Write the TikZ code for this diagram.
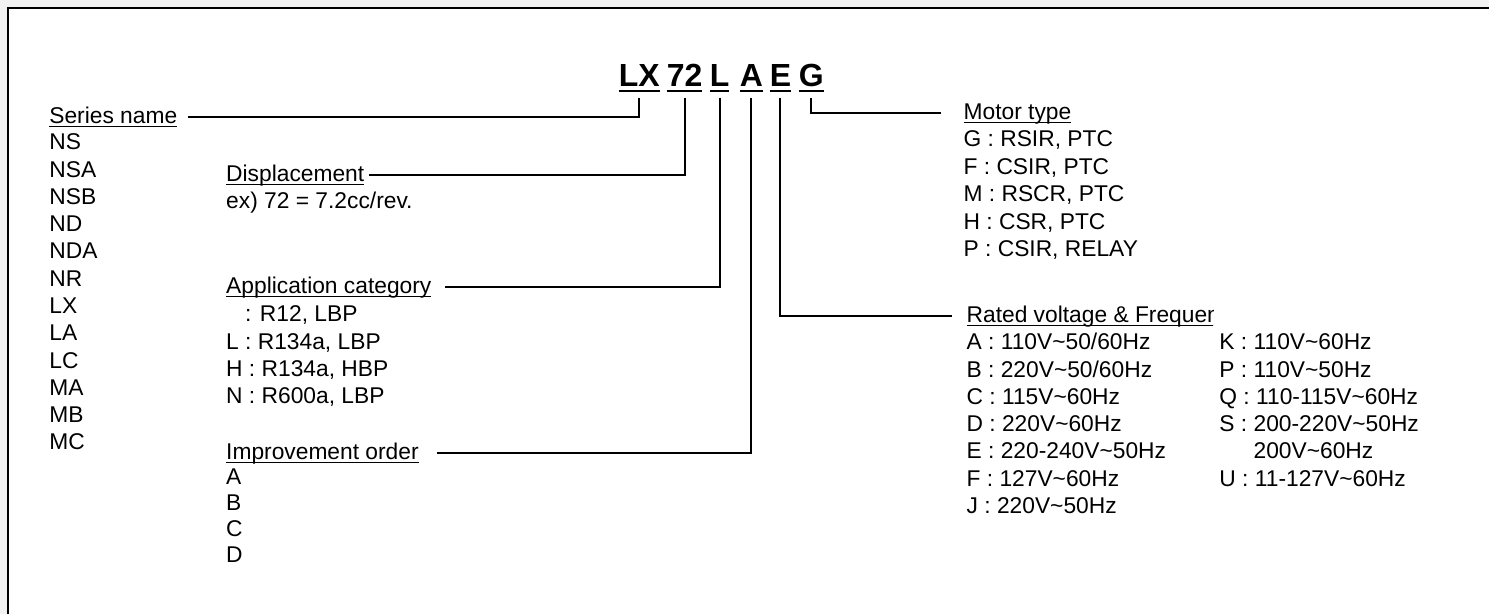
\documentclass[tikz,border=0pt]{standalone}
\usepackage{fontspec}
\setmainfont{Liberation Sans}
\usepackage{tikz}
\usetikzlibrary{positioning}

\newsavebox{\ulbox}
\newcommand{\ulabel}[1]{\sbox{\ulbox}{#1}\rlap{\rule[-1.7pt]{\wd\ulbox}{0.75pt}}\usebox{\ulbox}}
\newcommand{\ucode}[1]{\sbox{\ulbox}{#1}\rlap{\rule[-2.6pt]{\wd\ulbox}{1.3pt}}\usebox{\ulbox}}
\newcommand{\tld}{\textasciitilde}

\begin{document}
\begin{tikzpicture}[
        x=0.5pt,
        y=-0.5pt,
        code/.style={anchor=base west,inner sep=0pt,font=\fontsize{16}{19}\selectfont\bfseries},
        lbl/.style={anchor=base west,inner sep=0pt,font=\fontsize{11.4}{13.7}\selectfont},
        link/.style={line width=1pt}
    ]
        % page frame
        \fill[gray!10] (0,0) rectangle (1490,614);
        \fill[white] (7,7) rectangle (1490,614);
        \draw[line width=1.2pt] (8,614) -- (8,8) -- (1490,8);
        \useasboundingbox (0,0) rectangle (1490,614);

        % model code
        \node[code] (lx) at (619,87) {\ucode{LX}};
        \node[code] (num) at (667,87) {\ucode{72}};
        \node[code] (app) at (710,87) {\ucode{L}};
        \node[code] (imp) at (740,87) {\ucode{A}};
        \node[code] (volt) at (770,87) {\ucode{E}};
        \node[code] (mot) at (799,87) {\ucode{G}};

        % series
        \node[lbl] (series) at (49,124) {\ulabel{Series name}};
        \foreach \s [count=\i from 0] in {NS,NSA,NSB,ND,NDA,NR,LX,LA,LC,MA,MB,MC}
            \node[lbl] (ser-\s) at (49,150+27.3*\i) {\s};

        % displacement
        \node[lbl] (displ) at (226,182) {\ulabel{Displacement}};
        \node[lbl] (displ-ex) at (226,209) {ex) 72 = 7.2cc/rev.};

        % application
        \node[lbl] (appcat) at (226,294) {\ulabel{Application category}};
        \foreach \s [count=\i from 0] in {{\hphantom{L} : R12, LBP},{L : R134a, LBP},{H : R134a, HBP},{N : R600a, LBP}}
            \node[lbl] (appcat-\i) at (226,322+27.3*\i) {\s};

        % improvement
        \node[lbl] (improv) at (226,460) {\ulabel{Improvement order}};
        \foreach \s [count=\i from 0] in {A,B,C,D}
            \node[lbl] (improv-\s) at (226,485+26*\i) {\s};

        % motor
        \node[lbl] (motor) at (964,120) {\ulabel{Motor type}};
        \foreach \s [count=\i from 0] in {{G : RSIR, PTC},{F : CSIR, PTC},{M : RSCR, PTC},{H : CSR, PTC},{P : CSIR, RELAY}}
            \node[lbl] (motor-\i) at (964,147+27.5*\i) {\s};

        % voltage, title cut off by its box
        \begin{scope}
            \clip (900,290) rectangle (1214,340);
            \node[lbl] (voltage) at (967,323) {\ulabel{Rated voltage \& Frequency}};
        \end{scope}
        \foreach \s [count=\i from 0] in {A : 110V\tld50/60Hz,B : 220V\tld50/60Hz,C : 115V\tld60Hz,D : 220V\tld60Hz,E : 220-240V\tld50Hz,F : 127V\tld60Hz,J : 220V\tld50Hz}
            \node[lbl] (vl-\i) at (967,350+27.3*\i) {\s};
        \foreach \s [count=\i from 0] in {K : 110V\tld60Hz,P : 110V\tld50Hz,Q : 110-115V\tld60Hz,S : 200-220V\tld50Hz,\hphantom{S : }200V\tld60Hz,U : 11-127V\tld60Hz}
            \node[lbl] (vr-\i) at (1220,350+27.3*\i) {\s};

        % connectors
        \draw[link] ([yshift=-2.5pt]lx.south) |- ([shift={(5pt,3.5pt)}]series.base east);
        \draw[link] ([yshift=-2.5pt]num.south) |- ([shift={(2pt,3.5pt)}]displ.base east);
        \draw[link] ([yshift=-2.5pt]app.south) |- ([shift={(6.5pt,3.5pt)}]appcat.base east);
        \draw[link] ([yshift=-2.5pt]imp.south) |- ([shift={(9pt,3.5pt)}]improv.base east);
        \draw[link] ([yshift=-2.5pt]volt.south) |- ([shift={(-7pt,3.5pt)}]voltage.base west);
        \draw[link] ([yshift=-2.5pt]mot.south) |- ([shift={(-11pt,3.5pt)}]motor.base west);
\end{tikzpicture}
\end{document}
